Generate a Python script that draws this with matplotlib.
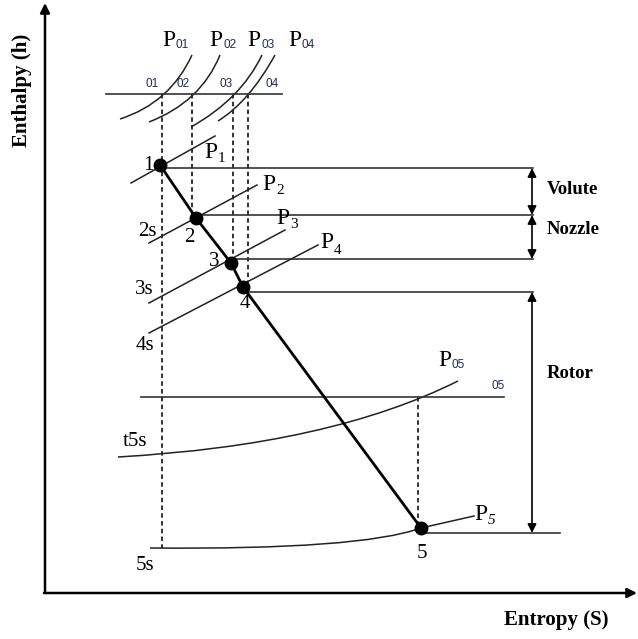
import matplotlib
matplotlib.use("Agg")
import matplotlib.pyplot as plt
from matplotlib.path import Path
from matplotlib.patches import PathPatch

# -----------------------------
# DATA (drawing units: entropy -> right, enthalpy -> down on the page)
# -----------------------------
# expansion process states 1..5
state_labels = ["1", "2", "3", "4", "5"]
s_states = [160, 196, 231, 243, 421]
h_states = [165, 218, 263, 287, 528]
state_label_pos = [(148, 165), (189, 238), (214, 262), (245, 303), (422, 553)]

# static enthalpy levels (horizontal lines) and where they end
h_levels = [168, 215, 259, 292, 533]
h_level_start = [160, 196, 231, 243, 421]
h_level_end = [533, 533, 533, 533, 560]

# stagnation levels
h0_level = 94
h0_span = (106, 282)
h05_level = 397
h05_span = (141, 504)

# stagnation isobars P01..P04 : start, control, end (quadratic curves)
p0_names = ["01", "02", "03", "04"]
p0_curves = [
    [(120, 119), (170, 103), (192, 55)],
    [(149, 122), (201, 102), (220, 55)],
    [(191, 127), (241, 99), (262, 55)],
    [(218, 121), (249, 102), (275, 55)],
]
p0_label_x = [169, 216, 254, 295]
p0_label_y = 41
p0_small_x = [152, 183, 226, 272]

# static isobars P1..P4 (straight segments)
p_names = ["1", "2", "3", "4"]
p_lines = [
    [(131, 183), (215, 136)],
    [(149, 243), (257, 185)],
    [(149, 303), (285, 230)],
    [(149, 333), (318, 245)],
]
p_label_pos = [(211, 152), (269, 184), (283, 218), (327, 243)]

# isentropic labels on the left
s_labels = ["2s", "3s", "4s", "t5s", "5s"]
s_label_pos = [(147, 232), (144, 290), (145, 346), (135, 442), (145, 565)]

# isentropic vertical dashed lines: x, top, bottom
dash_x = [162, 192, 233, 248, 418]
dash_top = [94, 94, 94, 94, 397]
dash_bottom = [548, 215, 262, 289, 528]

# exit isobars: t5s/P05 and 5s/P5 curves
p05_curve = [(118, 457), (330, 445), (458, 381)]
p5_curve = [(150, 548), (360, 550), (421, 528)]
p5_tail = [(421, 528), (474, 516)]

# component brackets
comp_names = ["Volute", "Nozzle", "Rotor"]
comp_top = [168, 215, 292]
comp_bottom = [215, 259, 533]
comp_label_y = [190, 230, 373]
bracket_x = 532

NAVY = "#1c2f5a"
SERIF = "Liberation Serif"
SANS = "Liberation Sans"


def quad_curve(ax, pts, lw=1.1):
    path = Path(pts, [Path.MOVETO, Path.CURVE3, Path.CURVE3])
    ax.add_patch(PathPatch(path, fill=False, lw=lw, color="#222222"))


# -----------------------------
# FIGURE
# -----------------------------
fig = plt.figure(figsize=(6.38, 6.39), dpi=100)
ax = fig.add_axes([0, 0, 1, 1])
ax.set_xlim(0, 638)
ax.set_ylim(639, 0)
ax.axis("off")

# axes with arrows
ax.annotate("", xy=(45, 3), xytext=(45, 593),
            arrowprops=dict(arrowstyle="-|>", lw=1.8, color="black",
                            mutation_scale=14, shrinkA=0, shrinkB=0))
ax.annotate("", xy=(637, 593), xytext=(44, 593),
            arrowprops=dict(arrowstyle="-|>", lw=1.8, color="black",
                            mutation_scale=14, shrinkA=0, shrinkB=0))
ax.text(22, 90, "Enthalpy (h)", rotation=90, ha="center", va="center",
        fontsize=15, fontweight="bold", family=SERIF)
ax.text(556, 620, "Entropy (S)", ha="center", va="center",
        fontsize=15, fontweight="bold", family=SERIF)

# dashed isentropes
for x, t, b in zip(dash_x, dash_top, dash_bottom):
    ax.plot([x, x], [t, b], color="#222222", lw=1.3, ls=(0, (2.5, 1.8)))

# stagnation lines
ax.plot(h0_span, [h0_level, h0_level], color="#333333", lw=1.2)
ax.plot(h05_span, [h05_level, h05_level], color="#333333", lw=1.2)

# static enthalpy lines
for h, x0, x1 in zip(h_levels, h_level_start, h_level_end):
    ax.plot([x0, x1], [h, h], color="#333333", lw=1.2)

# stagnation isobars
for name, pts, lx, sx in zip(p0_names, p0_curves, p0_label_x, p0_small_x):
    quad_curve(ax, pts)
    ax.text(lx, p0_label_y, "P", ha="center", va="center",
            fontsize=17, family=SERIF)
    ax.text(lx + 7, p0_label_y + 4, name, ha="left", va="center",
            fontsize=8.5, family=SANS, color=NAVY)
    ax.text(sx, h0_level - 10, name, ha="center", va="center",
            fontsize=8.5, family=SANS, color=NAVY)

# static isobars
for name, seg, (lx, ly) in zip(p_names, p_lines, p_label_pos):
    ax.plot([seg[0][0], seg[1][0]], [seg[0][1], seg[1][1]],
            color="#222222", lw=1.1)
    ax.text(lx, ly, "P", ha="center", va="center", fontsize=17, family=SERIF)
    ax.text(lx + 7, ly + 7, name, ha="left", va="center",
            fontsize=11, family=SERIF)

# exit isobars
quad_curve(ax, p05_curve)
quad_curve(ax, p5_curve)
ax.plot([p5_tail[0][0], p5_tail[1][0]], [p5_tail[0][1], p5_tail[1][1]],
        color="#222222", lw=1.1)
ax.text(445, 360, "P", ha="center", va="center", fontsize=17, family=SERIF)
ax.text(452, 365, "05", ha="left", va="center", fontsize=8.5,
        family=SANS, color=NAVY)
ax.text(498, 386, "05", ha="center", va="center", fontsize=8.5,
        family=SANS, color=NAVY)
ax.text(481, 514, "P", ha="center", va="center", fontsize=17, family=SERIF)
ax.text(488, 521, "5", ha="left", va="center", fontsize=11,
        family=SERIF, style="italic")

# expansion process
ax.plot(s_states, h_states, color="black", lw=2.0, zorder=3)
ax.plot(s_states, h_states, "o", color="black", ms=9, zorder=4)
for lab, (x, y) in zip(state_labels, state_label_pos):
    ax.text(x, y, lab, ha="center", va="center", fontsize=15, family=SERIF)

for lab, (x, y) in zip(s_labels, s_label_pos):
    ax.text(x, y, lab, ha="center", va="center", fontsize=15, family=SERIF)

# component brackets
for name, t, b, ly in zip(comp_names, comp_top, comp_bottom, comp_label_y):
    ax.annotate("", xy=(bracket_x, t), xytext=(bracket_x, b),
                arrowprops=dict(arrowstyle="<|-|>", lw=1.2, color="black",
                                mutation_scale=13, shrinkA=0, shrinkB=0))
    ax.text(547, ly, name, ha="left", va="center", fontsize=13.5,
            fontweight="bold", family=SERIF)

plt.savefig("out.png", dpi=100)
plt.close()
